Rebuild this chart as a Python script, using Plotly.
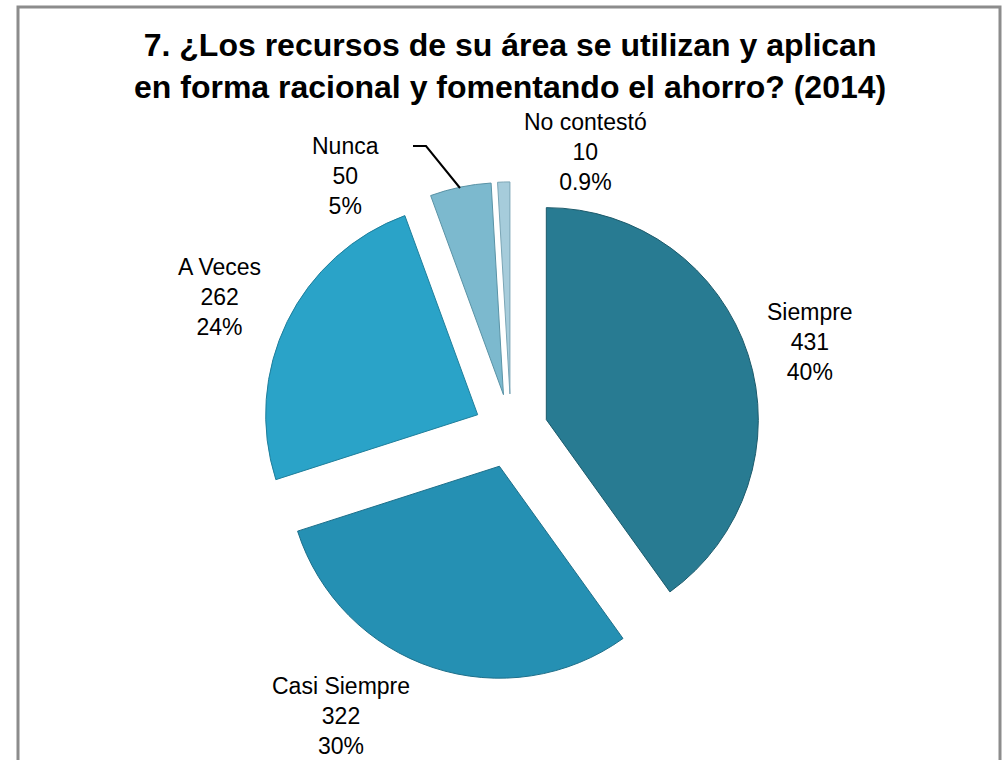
import plotly.graph_objects as go

# ---- data ----
categories = ["Siempre", "Casi Siempre", "A Veces", "Nunca", "No contestó"]
values = [431, 322, 262, 50, 10]
title_lines = ["7. ¿Los recursos de su área se utilizan y aplican",
               "en forma racional y fomentando el ahorro? (2014)"]

# ---- styling / layout ----
colors = ["#287b92", "#2590b3", "#2aa3c8", "#7cb9ce", "#a6ccdb"]
edge_colors = ["#1c5a6b", "#1d6f8a", "#1f7f9c", "#5a93a6", "#7aa5b5"]
W, H = 1002, 760
label_px = [(810, 342), (341, 716), (219, 297), (345, 176), (585, 152)]  # label block centres (px)

total = sum(values)


def pct_text(v):
    p = v / total * 100
    return f"{p:.0f}%" if p >= 1 else f"{p:.1f}%"


# pie geometry in pixels
cx, cy, r, pull = 511, 431, 212, 0.175
half = r * (1 + pull)

fig = go.Figure(go.Pie(
    labels=categories,
    values=values,
    sort=False,
    direction="clockwise",
    rotation=0,
    pull=[pull] * len(values),
    marker=dict(colors=colors, line=dict(color=edge_colors, width=1)),
    textinfo="none",
    hoverinfo="label+value+percent",
    showlegend=False,
    domain=dict(x=[(cx - half) / W, (cx + half) / W],
                y=[1 - (cy + half) / H, 1 - (cy - half) / H]),
))

annotations = []
for cat, v, (px, py) in zip(categories, values, label_px):
    annotations.append(dict(
        x=px / W, y=1 - py / H, xref="paper", yref="paper",
        text=f"{cat}<br>{v}<br>{pct_text(v)}",
        showarrow=False, xanchor="center", yanchor="middle", align="center",
        font=dict(family="Liberation Sans, Arial, sans-serif", size=23, color="#000000"),
    ))

# title
annotations.append(dict(
    x=510 / W, y=1 - 25 / H, xref="paper", yref="paper",
    text="<b>" + "<br>".join(title_lines) + "</b>",
    showarrow=False, xanchor="center", yanchor="top", align="center",
    font=dict(family="Liberation Sans, Arial, sans-serif", size=32, color="#000000"),
))

shapes = [
    # chart frame
    dict(type="rect", xref="paper", yref="paper",
         x0=18 / W, x1=1000 / W, y0=-0.05, y1=1 - 7 / H,
         line=dict(color="#8c8c8c", width=3), fillcolor="rgba(0,0,0,0)"),
    # leader line for "Nunca"
    dict(type="path", xref="paper", yref="paper",
         path=f"M {413 / W},{1 - 146 / H} L {426 / W},{1 - 146 / H} L {460 / W},{1 - 188 / H}",
         line=dict(color="#000000", width=2)),
]

fig.update_layout(
    width=W, height=H,
    margin=dict(l=0, r=0, t=0, b=0),
    paper_bgcolor="white", plot_bgcolor="white",
    annotations=annotations,
    shapes=shapes,
)

fig.write_html(
    "out.html",
    config={"displayModeBar": False},
    post_script="document.body.style.margin='0';document.body.style.overflow='hidden';",
)
